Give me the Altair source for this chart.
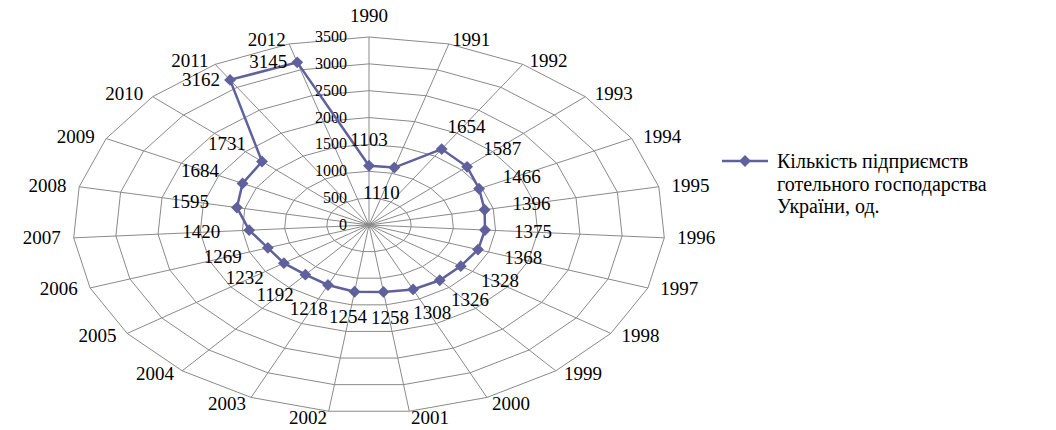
import math

import altair as alt
import pandas as pd

# Number of hotel-industry enterprises in Ukraine, 1990-2012
years = [str(y) for y in range(1990, 2013)]
values = [1103, 1110, 1654, 1587, 1466, 1396, 1375, 1368, 1328, 1326, 1308,
          1258, 1254, 1218, 1192, 1232, 1269, 1420, 1595, 1684, 1731, 3162, 3145]
ticks = [0, 500, 1000, 1500, 2000, 2500, 3000, 3500]
series_lines = ["Кількість підприємств", "готельного господарства", "України, од."]

FONT = "'Liberation Serif', 'Times New Roman', 'DejaVu Serif', serif"
COLOR = "#60609C"
GRID = "#8A8A8A"

W, H = 1056, 430
R_MAX = ticks[-1]
CX, CY = 369, 225          # radar centre (px)
RX, RY = 296, 188          # outer ring half-axes (px)
UX = R_MAX / RX            # data units per horizontal px
UY = R_MAX / RY            # data units per vertical px

# value-label placement: radial offset in px; a few labels go inside the curve,
# labels of points close to the outer ring sit to the left of their point
LAB_OX, LAB_OY = 48, 26
INWARD = {"1991"}
SIDE_MIN = 3000

n = len(years)
ang = [2 * math.pi * i / n for i in range(n)]
sin = [math.sin(a) for a in ang]
cos = [math.cos(a) for a in ang]

x_scale = alt.Scale(domain=[-CX * UX, (W - CX) * UX], nice=False, zero=False)
y_scale = alt.Scale(domain=[-(H - CY) * UY, CY * UY], nice=False, zero=False)


def xy(x="x", y="y"):
    return dict(
        x=alt.X(f"{x}:Q", scale=x_scale, axis=None),
        y=alt.Y(f"{y}:Q", scale=y_scale, axis=None),
    )


# polygonal grid rings
rings = pd.DataFrame([
    {"level": t, "k": k, "x": t * sin[k % n], "y": t * cos[k % n]}
    for t in ticks[1:] for k in range(n + 1)
])
ring_layer = alt.Chart(rings).mark_line(color=GRID, strokeWidth=1).encode(
    **xy(), detail="level:N", order="k:Q"
)

# spokes
spokes = pd.DataFrame({
    "x": [0.0] * n, "y": [0.0] * n,
    "x2": [R_MAX * s for s in sin], "y2": [R_MAX * c for c in cos],
})
spoke_layer = alt.Chart(spokes).mark_rule(color=GRID, strokeWidth=1).encode(
    **xy(), x2="x2:Q", y2="y2:Q"
)

# radial tick labels along the first spoke
tick_df = pd.DataFrame({"x": [0.0] * len(ticks), "y": ticks, "t": [str(t) for t in ticks]})
tick_layer = alt.Chart(tick_df).mark_text(
    align="right", baseline="middle", dx=-22, font=FONT, fontSize=16, color="black"
).encode(**xy(), text="t:N")

# year labels around the outer ring
yl = []
for i, yr in enumerate(years):
    s, c = sin[i], cos[i]
    ox = 13 * s
    oy = 4 * c - (3 if c < -0.9 else 0)
    if abs(s) < 0.05:
        side, oy = "center", 21
    elif s > 0:
        side = "left"
    else:
        side = "right"
    yl.append({"x": R_MAX * s + ox * UX, "y": R_MAX * c + oy * UY, "t": yr, "side": side})
year_df = pd.DataFrame(yl)
year_layers = [
    alt.Chart(year_df[year_df.side == side]).mark_text(
        align=side, baseline="middle", font=FONT, fontSize=19, color="black"
    ).encode(**xy(), text="t:N")
    for side in ["left", "right", "center"]
]

# data series (closed polygon)
pts = pd.DataFrame({
    "year": years, "v": values, "k": list(range(n)),
    "x": [v * s for v, s in zip(values, sin)],
    "y": [v * c for v, c in zip(values, cos)],
})
closed = pd.concat([pts, pts.iloc[[0]].assign(k=n)], ignore_index=True)
line_layer = alt.Chart(closed).mark_line(color=COLOR, strokeWidth=2.5).encode(
    **xy(), order="k:Q"
)
point_layer = alt.Chart(pts).mark_point(
    shape="diamond", filled=True, size=140, color=COLOR, opacity=1
).encode(**xy())

# value labels
lab_rows = []
for i, (yr, v) in enumerate(zip(years, values)):
    s, c = sin[i], cos[i]
    if v > SIDE_MIN:
        lab_rows.append({"lx": v * s, "ly": v * c, "t": str(v), "pos": "side"})
        continue
    sign = -1 if yr in INWARD else 1
    lab_rows.append({
        "lx": v * s + sign * LAB_OX * s * UX,
        "ly": v * c + sign * LAB_OY * c * UY,
        "t": str(v), "pos": "radial",
    })
lab = pd.DataFrame(lab_rows)
value_radial = alt.Chart(lab[lab.pos == "radial"]).mark_text(
    align="center", baseline="middle", font=FONT, fontSize=19, color="black"
).encode(**xy("lx", "ly"), text="t:N")
value_side = alt.Chart(lab[lab.pos == "side"]).mark_text(
    align="right", baseline="middle", dx=-10, font=FONT, fontSize=19, color="black"
).encode(**xy("lx", "ly"), text="t:N")

# legend
one = pd.DataFrame({"a": [0]})
leg_line = alt.Chart(one).mark_rule(color=COLOR, strokeWidth=2.5).encode(
    x=alt.value(722), x2=alt.value(768), y=alt.value(161)
)
leg_pt = alt.Chart(one).mark_point(
    shape="diamond", filled=True, size=140, color=COLOR, opacity=1
).encode(x=alt.value(745), y=alt.value(161))
leg_text = alt.Chart(one).mark_text(
    align="left", baseline="alphabetic", font=FONT, fontSize=20, color="black",
    lineHeight=22.5, lineBreak="\n"
).encode(x=alt.value(777), y=alt.value(168), text=alt.value("\n".join(series_lines)))

chart = alt.layer(
    ring_layer, spoke_layer, tick_layer, *year_layers,
    line_layer, point_layer, value_radial, value_side,
    leg_line, leg_pt, leg_text,
).properties(
    width=W, height=H, autosize=alt.AutoSizeParams(type="none"), padding=0,
    background="white",
).configure_view(strokeWidth=0)

chart.save("out.html", embed_options={"renderer": "svg", "actions": False})
